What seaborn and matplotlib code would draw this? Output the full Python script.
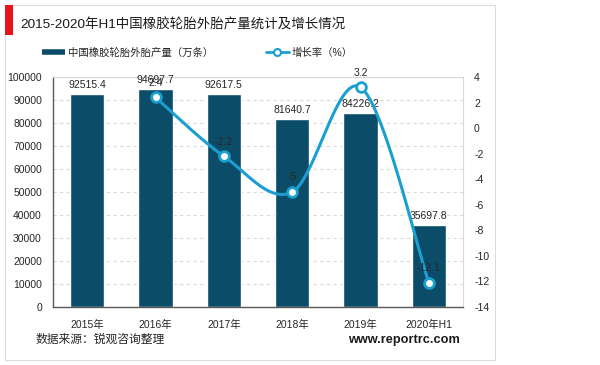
"""
Produccion de neumaticos de caucho en China 2015-2020H1 y su tasa de crecimiento.
Barras (produccion) + linea suavizada (crecimiento) en eje secundario.
"""

import matplotlib.pyplot as plt
import numpy as np
import pandas as pd
import seaborn as sns
from matplotlib.lines import Line2D
from matplotlib.patches import Rectangle

# Datos
anios = ["2015年", "2016年", "2017年", "2018年", "2019年", "2020年H1"]
produccion = [92515.4, 94697.7, 92617.5, 81640.7, 84226.2, 35697.8]
crecimiento = [np.nan, 2.4, -2.2, -5, 3.2, -12.1]
etiquetas_crec = ["", "2.4", "-2.2", "-5", "3.2", "-12.1"]

COLOR_BARRA = "#0b4d68"
COLOR_LINEA = "#1b9fd0"
COLOR_TEXTO = "#262626"


def curva_suave(x, y, n=40):
    """Curva tipo Catmull-Rom (como el 'suavizado' de Excel) entre los puntos."""
    pts = np.column_stack([x, y]).astype(float)
    xs, ys = [], []
    for i in range(len(pts) - 1):
        p0 = pts[max(i - 1, 0)]
        p1 = pts[i]
        p2 = pts[i + 1]
        p3 = pts[min(i + 2, len(pts) - 1)]
        c1 = p1 + (p2 - p0) / 6
        c2 = p2 - (p3 - p1) / 6
        t = np.linspace(0, 1, n)[:, None]
        seg = ((1 - t) ** 3 * p1 + 3 * (1 - t) ** 2 * t * c1
               + 3 * (1 - t) * t ** 2 * c2 + t ** 3 * p2)
        xs.extend(seg[:, 0])
        ys.extend(seg[:, 1])
    return np.array(xs), np.array(ys)


sns.set_theme(style="white")
plt.rcParams["font.family"] = ["Liberation Sans", "Noto Sans CJK SC", "DejaVu Sans"]
plt.rcParams["axes.unicode_minus"] = False

fig = plt.figure(figsize=(6, 3.65), dpi=100)

# Marco del panel y acento rojo
fig.patches.append(Rectangle((5 / 600, 5 / 365), 490 / 600, 355 / 365,
                             transform=fig.transFigure, fill=False,
                             edgecolor="#dcdcdc", linewidth=0.8))
fig.patches.append(Rectangle((5 / 600, 1 - 35 / 365), 8 / 600, 30 / 365,
                             transform=fig.transFigure, color="#e8141b",
                             linewidth=0))

ax = fig.add_axes([53 / 600, 1 - 307 / 365, 410 / 600, 230 / 365])
df = pd.DataFrame({"anio": anios, "produccion": produccion})
sns.barplot(data=df, x="anio", y="produccion", color=COLOR_BARRA,
            saturation=1, width=0.5, ax=ax)
ax.bar_label(ax.containers[0], labels=[f"{v}" for v in produccion],
             padding=3, fontsize=7.5, color=COLOR_TEXTO)

ax.set_ylim(0, 100000)
ax.set_yticks(range(0, 100001, 10000))
ax.set_xlabel("")
ax.set_ylabel("")
ax.yaxis.grid(True, linestyle=(0, (3, 3)), color="#d9d9d9", linewidth=0.8)
ax.set_axisbelow(True)
ax.tick_params(axis="both", length=0, labelsize=7.5, colors=COLOR_TEXTO)
ax.tick_params(axis="y", pad=8)
ax.tick_params(axis="x", pad=9)
for lado in ["left", "bottom"]:
    ax.spines[lado].set_color("#595959")
    ax.spines[lado].set_linewidth(1.0)
for lado in ["top", "right"]:
    ax.spines[lado].set_color("#d9d9d9")
    ax.spines[lado].set_linewidth(0.8)

# Eje secundario: crecimiento
ax2 = ax.twinx()
idx = np.array([i for i, v in enumerate(crecimiento) if not np.isnan(v)])
vals = np.array([crecimiento[i] for i in idx])
cx, cy = curva_suave(idx, vals)
ax2.plot(cx, cy, color=COLOR_LINEA, linewidth=2.2, zorder=3)
ax2.plot(idx, vals, linestyle="none", marker="o", markersize=7,
         markerfacecolor="white", markeredgecolor=COLOR_LINEA,
         markeredgewidth=2, zorder=4)
for i in idx:
    ax2.annotate(etiquetas_crec[i], (i, crecimiento[i]), xytext=(0, 7),
                 textcoords="offset points", ha="center", va="bottom",
                 fontsize=7.5, color=COLOR_TEXTO)
ax2.set_ylim(-14, 4)
ax2.set_yticks(range(-14, 5, 2))
ax2.tick_params(axis="y", length=0, labelsize=7.5, colors=COLOR_TEXTO, pad=8)
for lado in ax2.spines:
    ax2.spines[lado].set_visible(False)
ax2.set_xlim(-0.5, 5.5)

# Titulo
fig.text(20 / 600, 1 - 25 / 365, "2015-2020年H1中国橡胶轮胎外胎产量统计及增长情况",
         fontsize=9.7, va="center", ha="left", color="#1a1a1a")

# Leyenda
manejadores = [
    Line2D([], [], color=COLOR_BARRA, linewidth=4, solid_capstyle="butt"),
    Line2D([], [], color=COLOR_LINEA, linewidth=2, marker="o", markersize=5,
           markerfacecolor="white", markeredgewidth=1.5),
]
fig.legend(manejadores, ["中国橡胶轮胎外胎产量（万条）", "增长率（%）"],
           loc="center left", bbox_to_anchor=(33 / 600, 1 - 53 / 365),
           ncol=2, frameon=False, fontsize=7.5, handlelength=2.2,
           handletextpad=0.3, columnspacing=5.0, labelcolor=COLOR_TEXTO)

# Fuente
fig.text(36 / 600, 1 - 340 / 365, "数据来源：锐观咨询整理", fontsize=8.5,
         va="center", ha="left", color=COLOR_TEXTO)
fig.text(348 / 600, 1 - 340 / 365, "www.reportrc.com", fontsize=9.2,
         fontweight="bold", va="center", ha="left", color="#1a1a1a")

fig.savefig("out.png", dpi=100)
